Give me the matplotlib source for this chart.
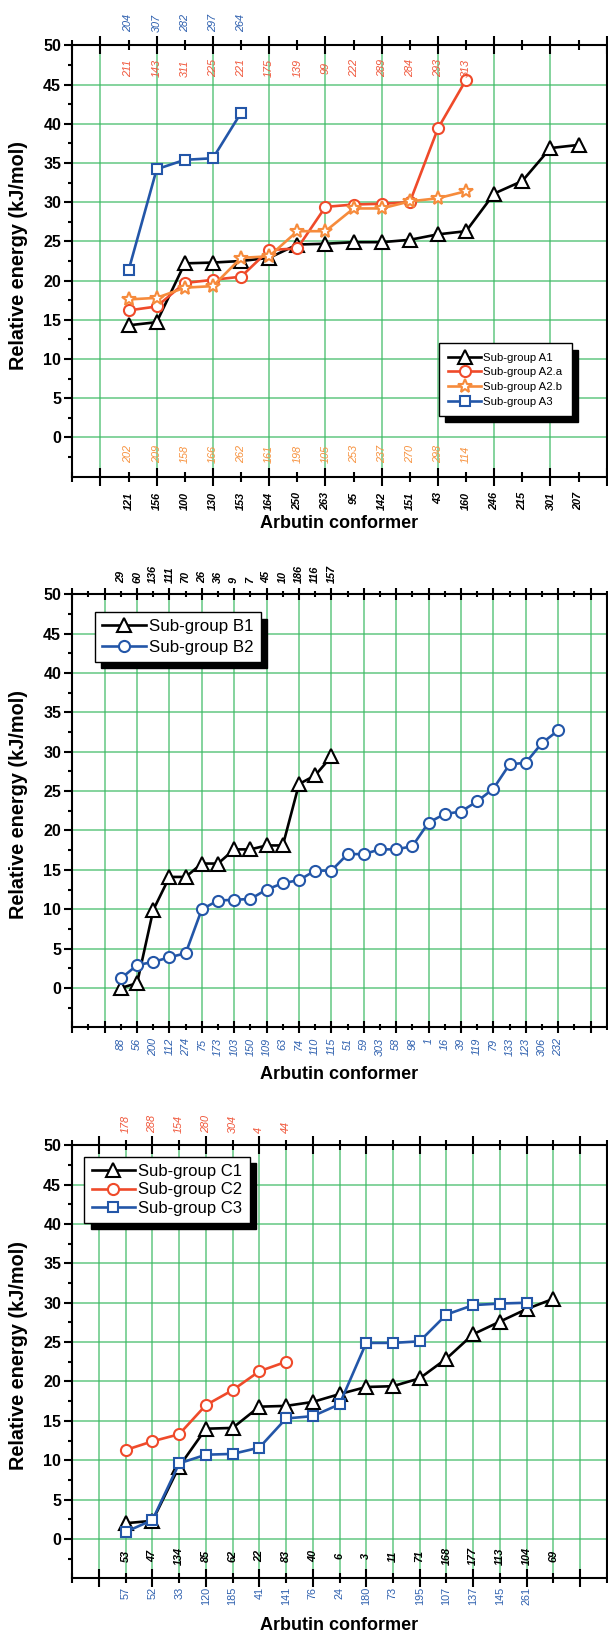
import numpy as np
import matplotlib
matplotlib.use("Agg")
import matplotlib.pyplot as plt
import matplotlib.transforms as mtransforms
from matplotlib.patches import Shadow

plt.rcParams["font.family"] = ["Liberation Sans", "DejaVu Sans"]

# ---------------- grupo A ----------------
a1_ids = ["121", "156", "100", "130", "153", "164", "250", "263", "95", "142",
          "151", "43", "160", "246", "215", "301", "207"]
a1_e = [14.3, 14.7, 22.2, 22.3, 22.5, 22.9, 24.6, 24.7, 24.9, 24.9,
        25.2, 25.9, 26.3, 31.1, 32.7, 36.9, 37.3]
a2a_ids = ["211", "143", "311", "225", "221", "175", "139", "99", "222", "289",
           "284", "293", "313"]
a2a_e = [16.2, 16.7, 19.7, 20.1, 20.5, 23.9, 24.1, 29.4, 29.7, 29.8, 30.0, 39.4, 45.6]
a2b_ids = ["202", "209", "158", "166", "262", "161", "198", "105", "253", "237",
           "270", "298", "114"]
a2b_e = [17.6, 17.8, 19.1, 19.3, 22.9, 23.1, 26.3, 26.3, 29.2, 29.2, 30.1, 30.5, 31.4]
a3_ids = ["204", "307", "282", "297", "264"]
a3_e = [21.3, 34.2, 35.4, 35.6, 41.4]

# ---------------- grupo B ----------------
b1_ids = ["29", "60", "136", "111", "70", "26", "36", "9", "7", "45", "10",
          "186", "116", "157"]
b1_e = [0.0, 0.6, 9.9, 14.1, 14.1, 15.8, 15.8, 17.6, 17.6, 18.1, 18.1,
        25.9, 27.0, 29.4]
b2_ids = ["88", "56", "200", "112", "274", "75", "173", "103", "150", "109",
          "63", "74", "110", "115", "51", "59", "303", "58", "98", "1", "16",
          "39", "119", "79", "133", "123", "306", "232"]
b2_e = [1.2, 2.9, 3.3, 3.9, 4.4, 10.0, 11.1, 11.2, 11.3, 12.5, 13.3, 13.7,
        14.9, 14.9, 17.0, 17.0, 17.6, 17.6, 18.0, 21.0, 22.1, 22.4, 23.7,
        25.3, 28.4, 28.6, 31.1, 32.7]

# ---------------- grupo C ----------------
c1_ids = ["53", "47", "134", "85", "62", "22", "83", "40", "6", "3", "11",
          "71", "168", "177", "113", "104", "69"]
c1_e = [2.0, 2.3, 9.2, 14.0, 14.1, 16.8, 16.9, 17.4, 18.4, 19.3, 19.4,
        20.4, 22.9, 26.0, 27.6, 29.2, 30.5]
c2_ids = ["178", "288", "154", "280", "304", "4", "44"]
c2_e = [11.3, 12.4, 13.3, 17.0, 18.9, 21.3, 22.5]
c3_ids = ["57", "52", "33", "120", "185", "41", "141", "76", "24", "180",
          "73", "195", "107", "137", "145", "261"]
c3_e = [0.9, 2.4, 9.6, 10.7, 10.8, 11.6, 15.3, 15.6, 17.1, 24.9, 24.9,
        25.1, 28.5, 29.7, 29.9, 30.0]

NEGRO = "#000000"
ROJO = "#ef4a2a"
NARANJA = "#f68b3c"
AZUL = "#2356a8"
T_ROJO = "#f0563a"
T_NARANJA = "#f7923f"
T_AZUL = "#2d5fae"
VERDE = "#3cba64"

W, H = 608, 1637
fig = plt.figure(figsize=(W / 100, H / 100), dpi=100)


def crear_eje(top_px, bot_px, xmax, mayores, grid_todo, largo_may, largo_men):
    left, right = 72.3, 606.7
    ax = fig.add_axes([left / W, 1 - bot_px / H, (right - left) / W, (bot_px - top_px) / H])
    ax.set_xlim(0, xmax)
    ax.set_ylim(-5, 50)
    ax.set_xticks(mayores)
    ax.set_xticks(np.arange(0, xmax + 1), minor=True)
    ax.set_yticks(np.arange(0, 51, 5))
    ax.set_yticks(np.arange(-2.5, 50, 5), minor=True)
    for s in ax.spines.values():
        s.set_linewidth(1.5)
    ax.tick_params(axis="x", which="both", top=True, bottom=True, direction="inout",
                   labelbottom=False, width=1.5)
    ax.tick_params(axis="x", which="major", length=largo_may)
    ax.tick_params(axis="x", which="minor", length=largo_men)
    ax.tick_params(axis="y", which="both", direction="out", width=1.5, right=False)
    ax.tick_params(axis="y", which="major", length=6, labelsize=11.5, pad=2)
    ax.tick_params(axis="y", which="minor", length=3)
    for t in ax.get_yticklabels():
        t.set_fontweight("bold")
    # lineas verdes de la cuadricula
    ax.grid(axis="y", which="major", color=VERDE, lw=1.1, alpha=0.8)
    ax.grid(axis="x", which="both" if grid_todo else "major", color=VERDE, lw=1.1, alpha=0.8)
    ax.set_axisbelow(True)
    yc = 1 - ((top_px + bot_px) / 2 - 6) / H
    fig.text(19 / W, yc, "Relative energy (kJ/mol)", rotation=90, ha="center", va="center",
             fontsize=14.3, fontweight="bold")
    fig.text(339.5 / W, 1 - (bot_px + 47) / H, "Arbutin conformer", ha="center", va="center",
             fontsize=13, fontweight="bold")
    return ax


def serie(ax, x0, vals, color, marker, ms, label):
    x = np.arange(len(vals)) + x0
    ax.plot(x, vals, color=color, lw=1.9, marker=marker, ms=ms, mfc="white",
            mec=color, mew=1.5, label=label, clip_on=False, zorder=3)


def etiquetas(ax, x0, ids, color, y, coord="axes", va="center", italic=True, bold=False):
    if coord == "axes":
        tr = mtransforms.blended_transform_factory(ax.transData, ax.transAxes)
    else:
        tr = ax.transData
    for i, txt in enumerate(ids):
        ax.text(x0 + i, y, txt, transform=tr, rotation=90, ha="center", va=va,
                color=color, fontsize=7.8, style="italic" if italic else "normal",
                fontweight="bold" if bold else "normal", clip_on=False)


def leyenda(ax, x, y, fs, hl, sp, pad):
    leg = ax.legend(loc="upper left", bbox_to_anchor=(x, y), borderaxespad=0,
                    fontsize=fs, handlelength=hl, handletextpad=0.2, labelspacing=sp,
                    borderpad=pad, fancybox=False, framealpha=1, edgecolor="black")
    leg.get_frame().set_linewidth(1.0)
    sombra = Shadow(leg.legendPatch, 4.5, -4.5, facecolor="black", edgecolor="black",
                    alpha=1, zorder=4.5)
    ax.add_artist(sombra)
    return leg


# ---- panel A ----
ax1 = crear_eje(45.3, 476.7, 19, np.arange(1, 20, 2), False, 12.5, 7)
serie(ax1, 2, a1_e, NEGRO, "^", 10, "Sub-group A1")
serie(ax1, 2, a2a_e, ROJO, "o", 8, "Sub-group A2.a")
serie(ax1, 2, a2b_e, NARANJA, "*", 10, "Sub-group A2.b")
serie(ax1, 2, a3_e, AZUL, "s", 7.5, "Sub-group A3")
etiquetas(ax1, 2, a3_ids, T_AZUL, 1.03, va="bottom")
etiquetas(ax1, 2, a2a_ids, T_ROJO, 47.1, coord="data")
etiquetas(ax1, 2, a2b_ids, T_NARANJA, -2.1, coord="data")
etiquetas(ax1, 2, a1_ids, NEGRO, -0.035, va="top", bold=True)
leyenda(ax1, 0.686, 0.309, 8.2, 2.9, 0.42, 0.8)

# ---- panel B ----
ax2 = crear_eje(594.3, 1027.3, 33, np.arange(0, 34, 2), False, 9, 5)
serie(ax2, 3, b1_e, NEGRO, "^", 10, "Sub-group B1")
serie(ax2, 3, b2_e, AZUL, "o", 8, "Sub-group B2")
etiquetas(ax2, 3, b1_ids, NEGRO, 1.025, va="bottom", bold=True)
etiquetas(ax2, 3, b2_ids, T_AZUL, -0.025, va="top")
leyenda(ax2, 0.0425, 0.958, 12.2, 2.6, 0.33, 0.4)

# ---- panel C ----
ax3 = crear_eje(1145.3, 1578.3, 20, np.arange(1, 20, 2), True, 12.5, 7)
serie(ax3, 2, c1_e, NEGRO, "^", 10, "Sub-group C1")
serie(ax3, 2, c2_e, ROJO, "o", 8, "Sub-group C2")
serie(ax3, 2, c3_e, AZUL, "s", 7.5, "Sub-group C3")
etiquetas(ax3, 2, c2_ids, T_ROJO, 1.029, va="bottom")
etiquetas(ax3, 2, c1_ids, NEGRO, -2.2, coord="data", bold=True)
etiquetas(ax3, 2, c3_ids, T_AZUL, -0.02, va="top", italic=False)
leyenda(ax3, 0.0225, 0.974, 12, 2.6, 0.2, 0.45)

fig.canvas.draw()
fig.savefig("out.png", dpi=100)
